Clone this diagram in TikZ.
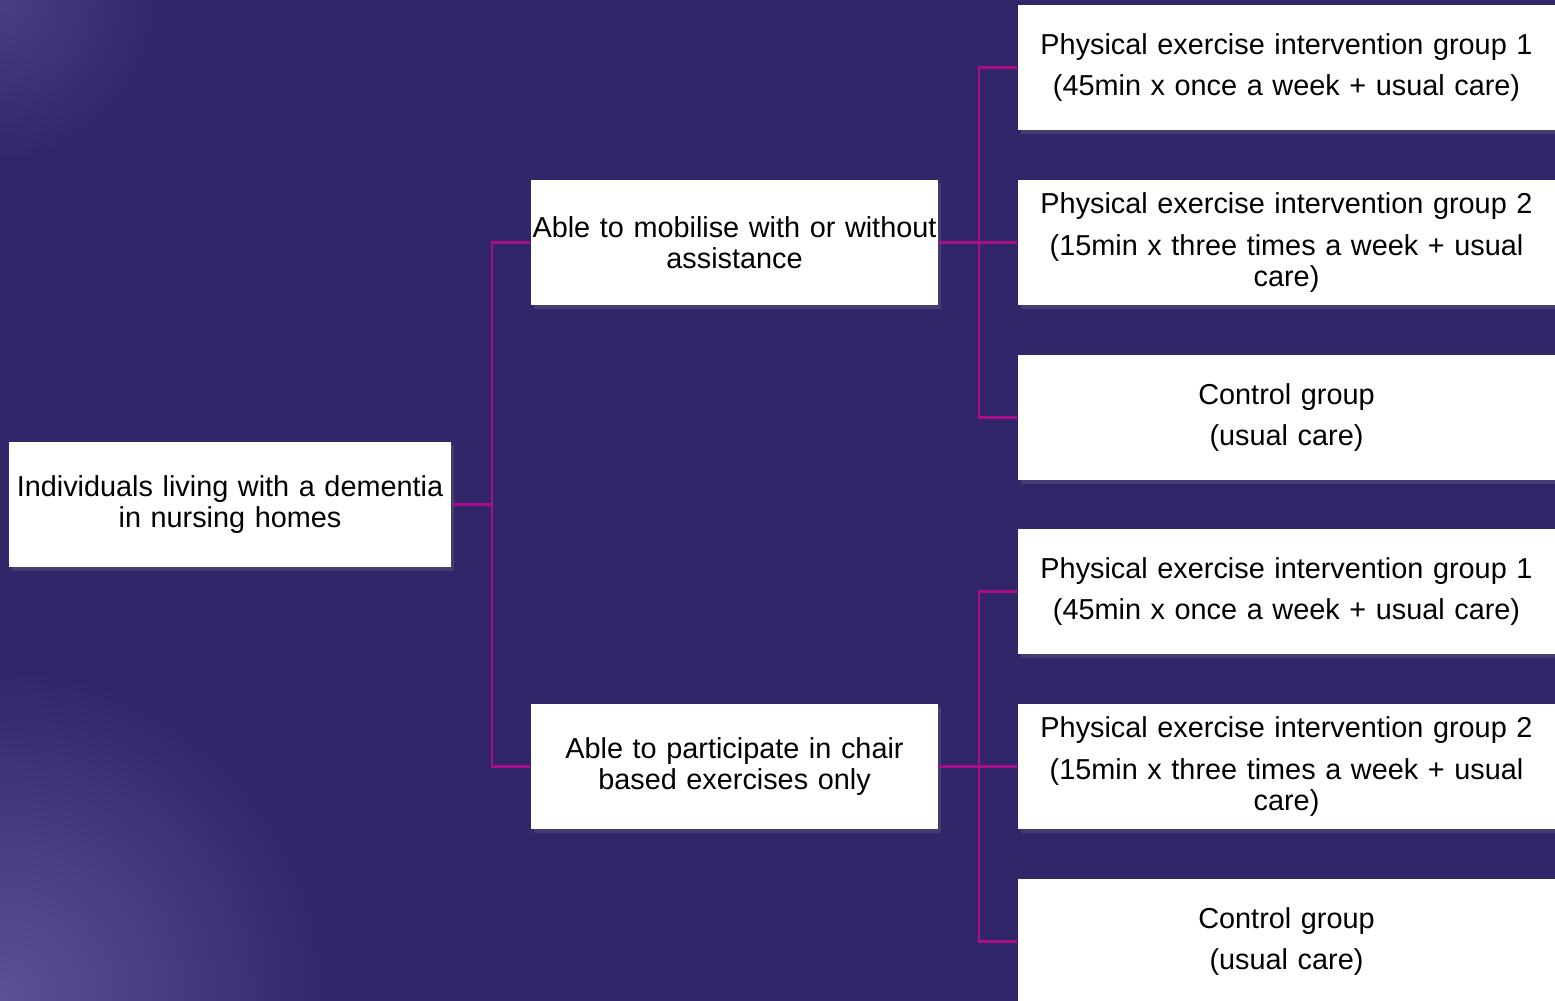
\documentclass[tikz,border=0pt]{standalone}
\usepackage{fontspec}
\setmainfont{Liberation Sans}
\usetikzlibrary{shadows}

\definecolor{bgcol}{RGB}{50,38,107}
\definecolor{lightcol}{RGB}{92,80,152}
\definecolor{linkcol}{RGB}{170,14,138}

\begin{document}
\begin{tikzpicture}[x=0.01cm, y=-0.01cm,
  box/.style={fill=white, inner sep=0pt, align=center, minimum height=1.25cm,
    font=\fontsize{8.2}{8.9}\selectfont,
    drop shadow={shadow xshift=0.8pt, shadow yshift=-1pt, opacity=0.25}},
  link/.style={linkcol, line width=0.6pt}]

% background
\useasboundingbox (0,0) rectangle (1555,1000);
\fill[bgcol] (-10,-10) rectangle (1565,1010);
\begin{scope}
\clip (-10,-10) rectangle (1565,1010);
\shade[inner color=lightcol, outer color=bgcol] (0,1000) circle (330);
\shade[inner color=lightcol!55!bgcol, outer color=bgcol] (0,0) circle (160);
\end{scope}

% boxes
\node[box, text width=4.42cm] (root) at (230,504.5) {Individuals living with a dementia\\in nursing homes};
\node[box, text width=4.07cm] (mob) at (734.5,242.5) {Able to mobilise with or without\\assistance};
\node[box, text width=4.07cm] (chair) at (734.5,766.5) {Able to participate in chair\\based exercises only};

\node[box, text width=5.37cm] (a1) at (1286.5,67.5) {Physical exercise intervention group 1\\[3pt](45min x once a week + usual care)};
\node[box, text width=5.37cm] (a2) at (1286.5,242.5) {Physical exercise intervention group 2\\[3pt](15min x three times a week + usual\\care)};
\node[box, text width=5.37cm] (a3) at (1286.5,417.5) {Control group\\[3pt](usual care)};
\node[box, text width=5.37cm] (b1) at (1286.5,591.5) {Physical exercise intervention group 1\\[3pt](45min x once a week + usual care)};
\node[box, text width=5.37cm] (b2) at (1286.5,766.5) {Physical exercise intervention group 2\\[3pt](15min x three times a week + usual\\care)};
\node[box, text width=5.37cm] (b3) at (1286.5,941.5) {Control group\\[3pt](usual care)};

% connectors
\draw[link] (root.east) -- ++(40,0) |- (mob.west);
\draw[link] (root.east) -- ++(40,0) |- (chair.west);
\foreach \t in {a1,a2,a3}
  \draw[link] (mob.east) -- ++(40,0) |- (\t.west);
\foreach \t in {b1,b2,b3}
  \draw[link] (chair.east) -- ++(40,0) |- (\t.west);

\end{tikzpicture}
\end{document}
